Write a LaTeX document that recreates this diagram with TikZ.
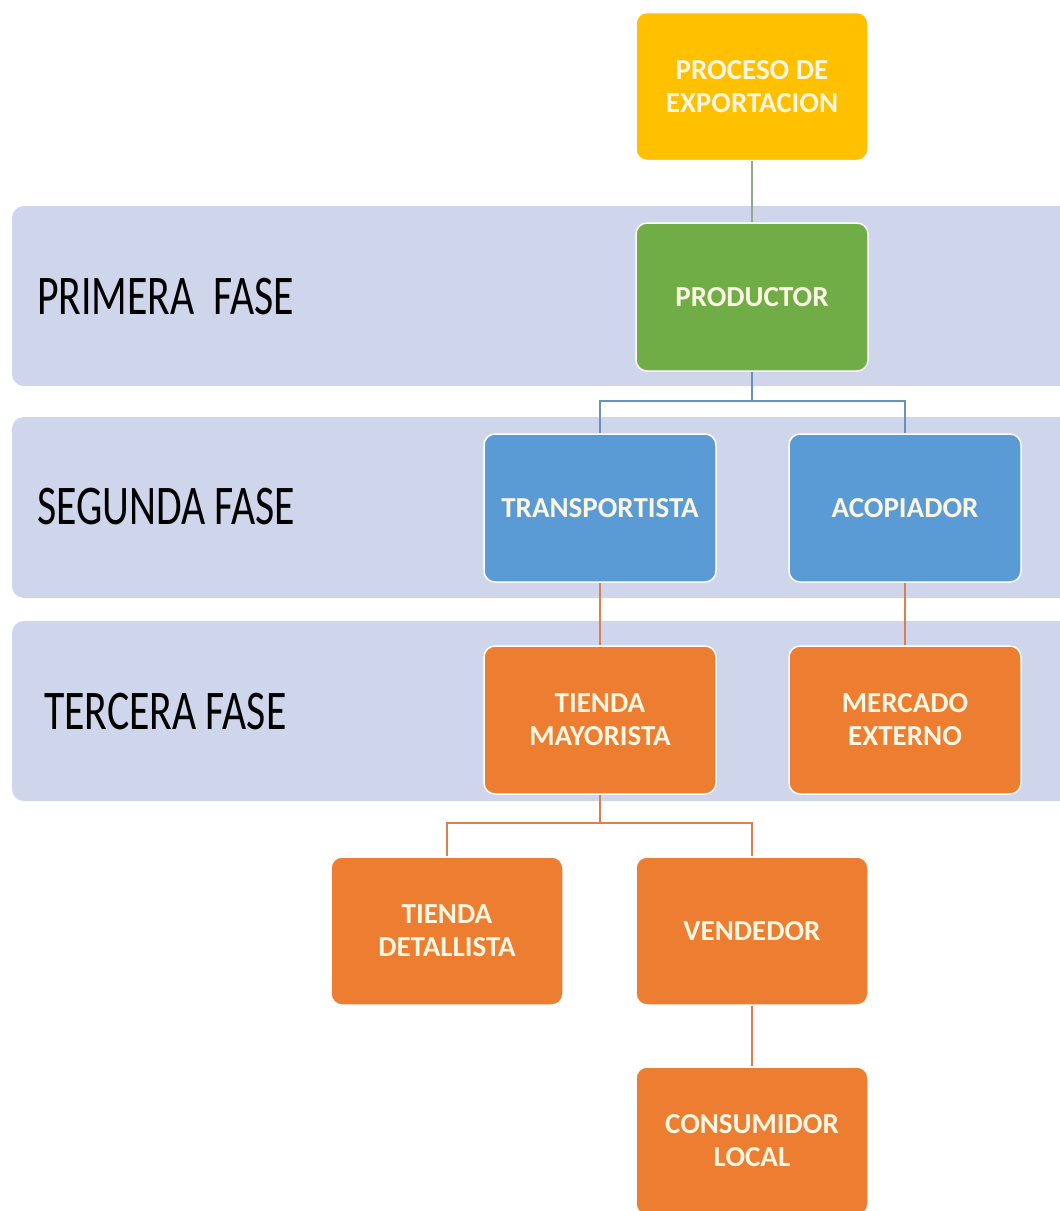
\documentclass[tikz,border=0pt]{standalone}
\usepackage{fontspec}
\setmainfont{Carlito}
\definecolor{cyel}{HTML}{FFC000}
\definecolor{cgrn}{HTML}{70AD47}
\definecolor{cblu}{HTML}{5B9BD5}
\definecolor{corg}{HTML}{ED7D31}
\definecolor{cband}{HTML}{CFD5EA}
\definecolor{ctxt}{HTML}{FAF6E2}
\definecolor{lblu}{HTML}{6A90BC}
\definecolor{lorg}{HTML}{D9814C}
\definecolor{lgrn}{HTML}{8CA98A}
\begin{document}
\begin{tikzpicture}[x=1pt,y=-1pt,
  band/.style={fill=cband,draw=none,rounded corners=12pt},
  box/.style={draw=white,line width=1.5pt,rounded corners=11pt,minimum width=232pt,minimum height=148pt,
    align=center,text=ctxt,font=\fontsize{29}{33}\selectfont\bfseries,inner sep=0pt},
  phase/.style={anchor=west,font=\fontsize{56}{60}\selectfont,text=black,xscale=0.745,inner sep=0pt},
  conn/.style={line width=1.6pt}]
\useasboundingbox (0,0) rectangle (1060,1211);
% bands
\fill[band] (12,206) rectangle (1075,386);
\fill[band] (12,417) rectangle (1075,598);
\fill[band] (12,621) rectangle (1075,801);
% phase labels
\node[phase] (f1) at (37,297) {PRIMERA\ \ FASE};
\node[phase] (f2) at (37,507) {SEGUNDA FASE};
\node[phase] (f3) at (44,712) {TERCERA FASE};
% boxes
\node[box,fill=cyel] (proc) at (752,86.5) {PROCESO DE\\EXPORTACION};
\node[box,fill=cgrn] (prod) at (752,297) {PRODUCTOR};
\node[box,fill=cblu] (trans) at (600,508) {TRANSPORTISTA};
\node[box,fill=cblu] (acop) at (905,508) {ACOPIADOR};
\node[box,fill=corg] (may) at (600,720) {TIENDA\\MAYORISTA};
\node[box,fill=corg] (ext) at (905,720) {MERCADO\\EXTERNO};
\node[box,fill=corg] (det) at (447,931) {TIENDA\\DETALLISTA};
\node[box,fill=corg] (ven) at (752,931) {VENDEDOR};
\node[box,fill=corg] (cons) at (752,1141) {CONSUMIDOR\\LOCAL};
% junctions
\coordinate (j1) at (752,401);
\coordinate (j2) at (600,823);
% connectors
\draw[conn,lgrn] (proc.south) -- (prod.north);
\draw[conn,lblu] (prod.south) -- (j1) -| (trans.north);
\draw[conn,lblu] (j1) -| (acop.north);
\draw[conn,lorg] (trans.south) -- (may.north);
\draw[conn,lorg] (acop.south) -- (ext.north);
\draw[conn,lorg] (may.south) -- (j2) -| (det.north);
\draw[conn,lorg] (j2) -| (ven.north);
\draw[conn,lorg] (ven.south) -- (cons.north);
\end{tikzpicture}
\end{document}
